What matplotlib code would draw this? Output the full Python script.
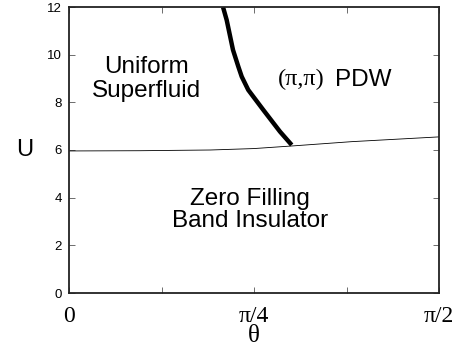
import numpy as np
import matplotlib
matplotlib.use("Agg")
import matplotlib.pyplot as plt

# Data
theta_lower = [0.0, 0.3, 0.6, 0.785, 0.948, 1.2, 1.5708]
u_lower = [5.96, 5.97, 6.0, 6.06, 6.17, 6.35, 6.55]

theta_upper = [0.6538, 0.6695, 0.6962, 0.7188, 0.7332, 0.761, 0.825, 0.8958, 0.9455]
u_upper = [12.0, 11.45, 10.2, 9.5, 9.08, 8.52, 7.68, 6.77, 6.21]

yticks = [0, 2, 4, 6, 8, 10, 12]
xticks = [0, np.pi / 8, np.pi / 4, 3 * np.pi / 8, np.pi / 2]
xticklabels = ["0", "", "π/4", "", "π/2"]

fig = plt.figure(figsize=(4.74, 3.62), dpi=100)
ax = fig.add_axes([69 / 474, 1 - 293 / 362, 370 / 474, 286 / 362])

ax.plot(theta_lower, u_lower, color="black", lw=0.6)
ax.plot(theta_upper, u_upper, color="black", lw=3.2, solid_capstyle="butt",
        solid_joinstyle="round")

ax.set_xlim(0, np.pi / 2)
ax.set_ylim(0, 12)
ax.set_yticks(yticks)
ax.set_xticks(xticks)
ax.set_xticklabels(xticklabels, fontfamily="Liberation Serif", fontsize=17)
for lab in ax.get_yticklabels():
    lab.set_fontfamily("Liberation Sans")
    lab.set_fontsize(9.5)
ax.tick_params(direction="in", top=True, right=True, length=4, width=0.6, color="#555555")
ax.tick_params(axis="x", pad=9)
ax.tick_params(axis="y", pad=5)
for sp in ax.spines.values():
    sp.set_linewidth(1.3)
    sp.set_color("#222222")

ax.set_xlabel("θ", fontfamily="Liberation Serif", fontsize=18, labelpad=-1)
ax.set_ylabel("U", fontfamily="Liberation Sans", fontsize=17, rotation=0, labelpad=16, va="center")

region_fs = 17.5
ax.text(0.21, 0.748, "Uniform\nSuperfluid", transform=ax.transAxes, ha="center", va="center",
        fontfamily="Liberation Sans", fontsize=region_fs, linespacing=1.07)
ax.text(0.692, 0.745, "(π,π)", transform=ax.transAxes, ha="right", va="center",
        fontfamily="Liberation Serif", fontsize=region_fs)
ax.text(0.719, 0.745, "PDW", transform=ax.transAxes, ha="left", va="center",
        fontfamily="Liberation Sans", fontsize=region_fs)
ax.text(0.49, 0.29, "Zero Filling\nBand Insulator", transform=ax.transAxes, ha="center", va="center",
        fontfamily="Liberation Sans", fontsize=region_fs, linespacing=1.05)

fig.savefig("out.png", dpi=100)
